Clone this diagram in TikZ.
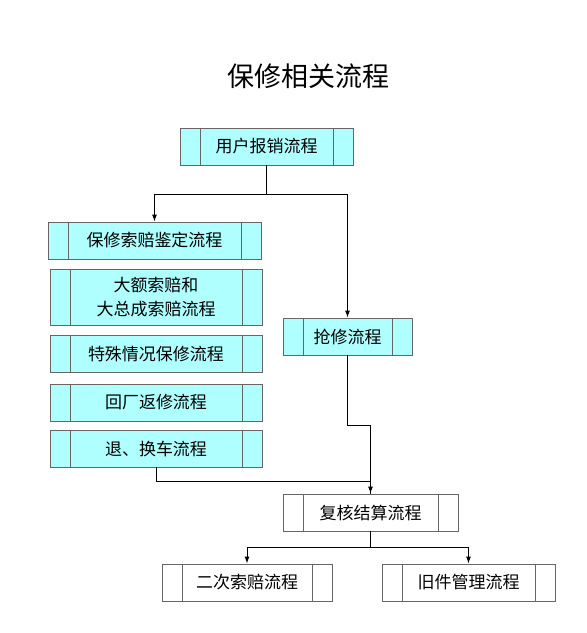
\documentclass[tikz,border=0pt]{standalone}
\usepackage{fontspec}
\setmainfont{Noto Sans CJK SC}
\usepackage{xcolor}
\usepackage{tikz}
\usetikzlibrary{positioning,calc,arrows.meta}
\definecolor{boxcyan}{HTML}{AFFFFF}
\definecolor{boxgray}{HTML}{666666}
\tikzstyle{proc}= [rectangle, draw=boxgray, line width=0.9pt, minimum height=37pt, inner sep=0pt, align=center,
	font=\fontsize{17}{24}\selectfont,
	path picture={\draw[boxgray, line width=0.9pt] ([xshift=20pt]path picture bounding box.north west) -- ([xshift=20pt]path picture bounding box.south west);
		\draw[boxgray, line width=0.9pt] ([xshift=-20pt]path picture bounding box.north east) -- ([xshift=-20pt]path picture bounding box.south east);}]
\tikzstyle{arr}= [-{Latex[length=7pt,width=5pt]}, line width=1pt]

\begin{document}
\begin{tikzpicture}[x=1pt, y=-1pt]
						\useasboundingbox (0,0) rectangle (587,633);
						\node[font=\fontsize{27}{30}\selectfont] (title) at (308,76) {保修相关流程};
						\node[proc, fill=boxcyan, minimum width=173pt] (user) at (266.5,146.5) {用户报销流程};
						\node[proc, fill=boxcyan, minimum width=213pt] (jd) at (154.5,240.5) {保修索赔鉴定流程};
						\node[proc, fill=boxcyan, minimum width=212pt, minimum height=56pt] (de) at (156,297) {大额索赔和\\大总成索赔流程};
						\node[proc, fill=boxcyan, minimum width=212pt] (ts) at (156,354) {特殊情况保修流程};
						\node[proc, fill=boxcyan, minimum width=212pt] (hc) at (156,402.5) {回厂返修流程};
						\node[proc, fill=boxcyan, minimum width=212pt] (th) at (156,448.5) {退、换车流程};
						\node[proc, fill=boxcyan, minimum width=129pt] (qx) at (347.5,336.5) {抢修流程};
						\node[proc, fill=white, minimum width=175pt] (fh) at (370.5,512.5) {复核结算流程};
						\node[proc, fill=white, minimum width=170pt] (ec) at (247,582.5) {二次索赔流程};
						\node[proc, fill=white, minimum width=173pt] (jj) at (468.5,582.5) {旧件管理流程};
						\coordinate (m1) at (266.5,194);
						\coordinate (m2) at (347.5,425);
						\coordinate (m3) at (156,481);
						\coordinate (m4) at (370.5,547);
						\draw[arr](user.south) -- (m1) -| (jd.north);
						\draw[arr](m1) -| (qx.north);
						\draw[arr](qx.south) -- (m2) -| (fh.north);
						\draw[line width=1pt](th.south) -- (m3) -| (fh.north);
						\draw[line width=1pt](fh.south) -- (m4);
						\draw[arr](m4) -| (ec.north);
						\draw[arr](m4) -| (jj.north);
					\end{tikzpicture}
\end{document}
